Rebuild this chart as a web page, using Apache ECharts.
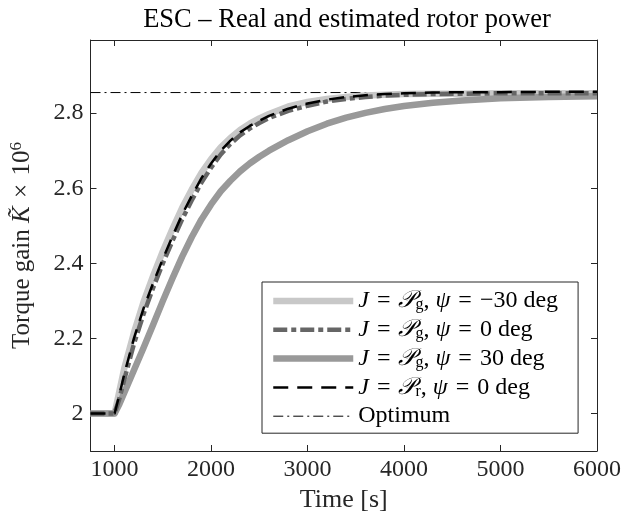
<!DOCTYPE html>
<html><head><meta charset="utf-8">
<script src="https://cdn.jsdelivr.net/npm/echarts@6/dist/echarts.min.js"></script>
<style>html,body{margin:0;padding:0;background:#fff}#c{width:624px;height:520px}</style>
</head><body><div id="c"></div>
<script>
// ---- data ----
const timeS = [750, 1000, 1050, 1100, 1200, 1300, 1400, 1500, 1600, 1700, 1800, 1900, 2000, 2100, 2200, 2300, 2400, 2500, 2600, 2800, 3000, 3200, 3400, 3600, 3800, 4000, 4300, 4600, 5000, 5500, 6000];
const gainPgNeg30 = [2.0, 2.0, 2.06, 2.12, 2.215, 2.297, 2.367, 2.432, 2.492, 2.548, 2.597, 2.641, 2.678, 2.709, 2.734, 2.755, 2.772, 2.786, 2.798, 2.818, 2.830, 2.838, 2.843, 2.847, 2.849, 2.851, 2.852, 2.852, 2.853, 2.853, 2.853];
const gainPg0 = [2.0, 2.0, 2.04, 2.09, 2.185, 2.265, 2.335, 2.400, 2.460, 2.517, 2.568, 2.615, 2.655, 2.690, 2.718, 2.741, 2.759, 2.774, 2.787, 2.806, 2.820, 2.831, 2.838, 2.843, 2.847, 2.849, 2.851, 2.852, 2.853, 2.853, 2.853];
const gainPgPos30 = [2.0, 2.0, 2.025, 2.055, 2.115, 2.175, 2.237, 2.300, 2.360, 2.418, 2.470, 2.517, 2.557, 2.592, 2.620, 2.645, 2.666, 2.684, 2.700, 2.728, 2.752, 2.772, 2.788, 2.801, 2.811, 2.819, 2.828, 2.834, 2.840, 2.843, 2.845];
const gainPr0 = [2.0, 2.0, 2.05, 2.105, 2.20, 2.28, 2.348, 2.412, 2.472, 2.530, 2.580, 2.627, 2.666, 2.700, 2.727, 2.749, 2.766, 2.780, 2.793, 2.812, 2.826, 2.836, 2.843, 2.848, 2.851, 2.853, 2.855, 2.856, 2.856, 2.857, 2.857];
const optimumTime = [750, 6000];
const optimumGain = [2.855, 2.855];
const xTickValues = [1000, 2000, 3000, 4000, 5000, 6000];
const yTickValues = [2, 2.2, 2.4, 2.6, 2.8];
const seriesNames = ['J = Pg, ψ = −30 deg', 'J = Pg, ψ = 0 deg', 'J = Pg, ψ = 30 deg', 'J = Pr, ψ = 0 deg', 'Optimum'];
const EQ = '{r|\u2004=\u2004}';
const legendRich = [
  '{i|J}' + EQ + '{p|𝒫}{s|g}{r|, }{i|ψ}' + EQ + '{r|−30 deg}',
  '{i|J}' + EQ + '{p|𝒫}{s|g}{r|, }{i|ψ}' + EQ + '{r|0 deg}',
  '{i|J}' + EQ + '{p|𝒫}{s|g}{r|, }{i|ψ}' + EQ + '{r|30 deg}',
  '{i|J}' + EQ + '{p|𝒫}{s|r}{r|, }{i|ψ}' + EQ + '{r|0 deg}',
  '{r|Optimum}'
];
// ---------------------------------------

const pairs = (xs, ys) => xs.map((x, i) => [x, ys[i]]);
const FONT = 'Liberation Serif';
const AX = '#262626';
const FS = 24;
const LH = 22;

const chart = echarts.init(document.getElementById('c'), null, {renderer: 'canvas'});

function mkSeries(name, data, color, width, dash, z) {
  return {
    name, type: 'line', data, xAxisIndex: 0, yAxisIndex: 0,
    showSymbol: false, symbol: 'none', smooth: false, animation: false, z,
    lineStyle: {color, width, type: dash, cap: 'butt', join: 'round'},
    itemStyle: {color},
    emphasis: {disabled: true}
  };
}

const richLegend = {
  r: {fontFamily: FONT, fontSize: FS, color: '#000', lineHeight: LH, height: LH},
  i: {fontFamily: FONT, fontSize: FS, fontStyle: 'italic', color: '#000', lineHeight: LH, height: LH},
  p: {fontFamily: FONT, fontSize: FS, fontStyle: 'italic', color: '#000', lineHeight: LH, height: LH},
  s: {fontFamily: FONT, fontSize: 16, color: '#000', lineHeight: 14, height: 14, padding: [8, 0, 0, 0]}
};

const option = {
  backgroundColor: '#fff',
  animation: false,
  title: {
    text: 'ESC – Real and estimated rotor power',
    left: 342, top: 2, textAlign: 'center',
    textStyle: {fontFamily: FONT, fontSize: 26.5, fontWeight: 'normal', color: '#000'}
  },
  grid: {left: 87, right: 27, top: 40, bottom: 69, containLabel: false},
  legend: {
    orient: 'vertical', left: 262, top: 282,
    padding: [7, 20, 5, 8],
    itemWidth: 80, itemHeight: 24, itemGap: 4.8,
    backgroundColor: '#fff', borderColor: AX, borderWidth: 1, borderRadius: 0,
    selectedMode: false,
    data: seriesNames,
    lineStyle: {width: 'inherit'},
    itemStyle: {color: 'rgba(0,0,0,0)', borderColor: 'rgba(0,0,0,0)', borderWidth: 0},
    formatter: name => legendRich[seriesNames.indexOf(name)],
    textStyle: {fontFamily: FONT, fontSize: FS, lineHeight: LH, color: '#000', rich: richLegend}
  },
  xAxis: [{
    type: 'value', min: 750, max: 6000, position: 'bottom',
    name: 'Time [s]', nameLocation: 'middle', nameGap: 35,
    nameTextStyle: {fontFamily: FONT, fontSize: 26, color: AX},
    axisLine: {show: true, onZero: false, lineStyle: {color: AX, width: 1}},
    axisTick: {show: true, inside: true, length: 6, customValues: xTickValues, lineStyle: {color: AX}},
    axisLabel: {show: true, customValues: xTickValues, margin: 7, fontFamily: FONT, fontSize: FS, color: AX,
      formatter: v => String(Math.round(v))},
    splitLine: {show: false}
  }, {
    type: 'value', min: 750, max: 6000, position: 'top',
    axisLine: {show: true, onZero: false, lineStyle: {color: AX, width: 1}},
    axisTick: {show: true, inside: true, length: 6, customValues: xTickValues, lineStyle: {color: AX}},
    axisLabel: {show: false}, splitLine: {show: false}
  }],
  yAxis: [{
    type: 'value', min: 1.9, max: 2.995, position: 'left',
    name: '{r|Torque gain }{i|K̃}{r|\u2004×\u200410}{sup|6}',
    nameLocation: 'middle', nameGap: 55, nameRotate: 90,
    nameTextStyle: {
      fontFamily: FONT, fontSize: 25, color: AX,
      rich: {
        r: {fontFamily: FONT, fontSize: 25, color: AX, lineHeight: 26},
        i: {fontFamily: FONT, fontSize: 25, fontStyle: 'italic', color: AX, lineHeight: 26},
        sup: {fontFamily: FONT, fontSize: 17, color: AX, lineHeight: 16, padding: [0, 0, 12, 0]}
      }
    },
    axisLine: {show: true, onZero: false, lineStyle: {color: AX, width: 1}},
    axisTick: {show: true, inside: true, length: 6, customValues: yTickValues, lineStyle: {color: AX}},
    axisLabel: {show: true, customValues: yTickValues, margin: 7, fontFamily: FONT, fontSize: FS, color: AX,
      formatter: v => String(Math.round(v * 10) / 10)},
    splitLine: {show: false}
  }, {
    type: 'value', min: 1.9, max: 2.995, position: 'right',
    axisLine: {show: true, onZero: false, lineStyle: {color: AX, width: 1}},
    axisTick: {show: true, inside: true, length: 6, customValues: yTickValues, lineStyle: {color: AX}},
    axisLabel: {show: false}, splitLine: {show: false}
  }],
  series: [
    mkSeries(seriesNames[0], pairs(timeS, gainPgNeg30), '#c8c8c8', 6.5, 'solid', 3),
    mkSeries(seriesNames[1], pairs(timeS, gainPg0), '#666666', 4.5, [14, 4, 5, 4], 4),
    mkSeries(seriesNames[2], pairs(timeS, gainPgPos30), '#999999', 6.5, 'solid', 3),
    mkSeries(seriesNames[3], pairs(timeS, gainPr0), '#000000', 2.5, [15, 9], 5),
    mkSeries(seriesNames[4], pairs(optimumTime, optimumGain), '#000000', 1, [10, 4, 2, 4], 2)
  ]
};
chart.setOption(option);
</script>
</body></html>
